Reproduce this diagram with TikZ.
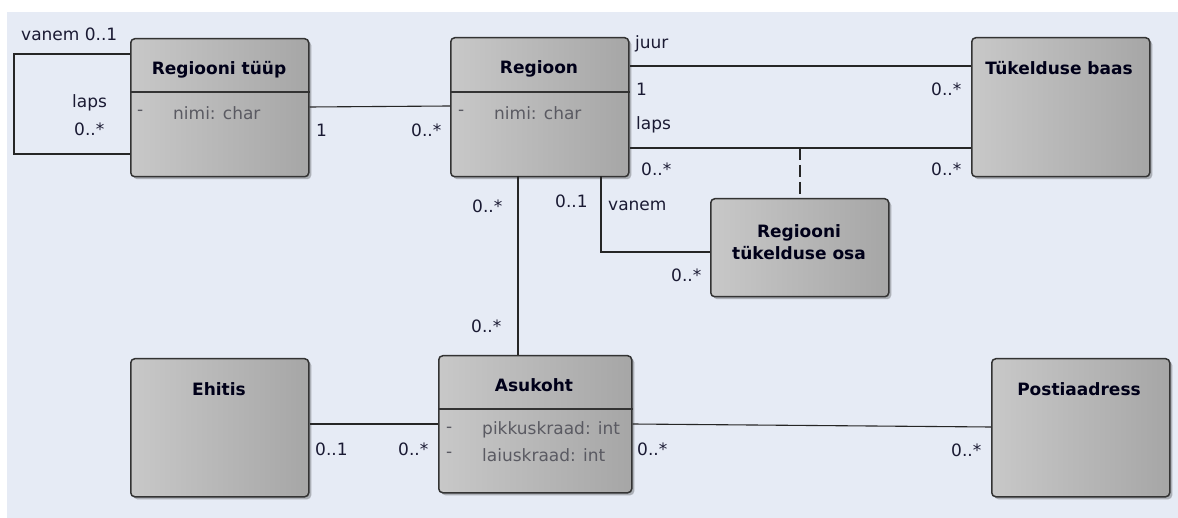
\documentclass[tikz,border=0pt]{standalone}
\usepackage{fontspec}
\setmainfont{DejaVu Sans}
\usetikzlibrary{shadows}
\definecolor{canvas}{HTML}{E6EBF5}
\definecolor{boxline}{HTML}{333333}
\definecolor{fillL}{HTML}{C8C8C8}
\definecolor{fillR}{HTML}{A6A6A6}
\definecolor{lbl}{HTML}{1A1A33}
\definecolor{attr}{HTML}{5A5A62}
\tikzset{
  cls/.style={draw=boxline, line width=1.5pt, rounded corners=4pt,
    left color=fillL, right color=fillR, anchor=north west, inner sep=0pt,
    drop shadow={shadow xshift=2.5pt, shadow yshift=-2.5pt, opacity=0.25, fill=black}},
  ctitle/.style={font=\fontsize{17}{20}\selectfont\bfseries, text=black!90!blue, inner sep=0pt, align=center},
  cattr/.style={font=\fontsize{17}{20}\selectfont, text=attr, inner sep=0pt, anchor=west},
  mult/.style={font=\fontsize{17}{20}\selectfont, text=lbl, inner sep=0pt},
  assoc/.style={draw=black!85, line width=1.1pt},
  sepline/.style={draw=boxline, line width=1.4pt}
}
\begin{document}
\begin{tikzpicture}[x=1pt,y=-1pt]
\useasboundingbox (0,0) rectangle (1178,518);
\fill[canvas] (7,12) rectangle (1178,518);

% class boxes
\node[cls, minimum width=178pt, minimum height=138pt] (rt) at (130,38) {};
\node[cls, minimum width=178pt, minimum height=139pt] (rg) at (450,37) {};
\node[cls, minimum width=178pt, minimum height=139pt] (tb) at (971,37) {};
\node[cls, minimum width=178pt, minimum height=98pt] (ro) at (710,198) {};
\node[cls, minimum width=178pt, minimum height=138pt] (eh) at (130,358) {};
\node[cls, minimum width=193pt, minimum height=137pt] (as) at (438,355) {};
\node[cls, minimum width=178pt, minimum height=138pt] (pa) at (991,358) {};

% compartment separators
\draw[sepline] (rt.west |- 0,92) -- (rt.east |- 0,92);
\draw[sepline] (rg.west |- 0,92) -- (rg.east |- 0,92);
\draw[sepline] (as.west |- 0,409) -- (as.east |- 0,409);

% class names
\node[ctitle] (rt-n) at (219,70) {Regiooni tüüp};
\node[ctitle] (rg-n) at (539,69) {Regioon};
\node[ctitle] (tb-n) at (1059,68) {Tükelduse baas};
\node[ctitle] (ro-n) at (799,242) {Regiooni\\[2pt]tükelduse osa};
\node[ctitle] (eh-n) at (219,389) {Ehitis};
\node[ctitle] (as-n) at (534,385) {Asukoht};
\node[ctitle] (pa-n) at (1079,389) {Postiaadress};

% attributes
\node[cattr] (rt-d) at (137,113) {-};
\node[cattr] (rt-a) at (173,113) {nimi: char};
\node[cattr] (rg-d) at (458,113) {-};
\node[cattr] (rg-a) at (494,113) {nimi: char};
\node[cattr] (as-d1) at (446,430) {-};
\node[cattr] (as-a1) at (482,430) {pikkuskraad: int};
\node[cattr] (as-d2) at (446,455) {-};
\node[cattr] (as-a2) at (482,455) {laiuskraad: int};

% connector end points
\coordinate (loopA) at (rt.west |- 0,54);
\coordinate (loopB) at (rt.west |- 0,154);
\coordinate (juurA) at (rg.east |- 0,66);
\coordinate (juurB) at (tb.west |- 0,66);
\coordinate (lapsA) at (rg.east |- 0,148);
\coordinate (lapsB) at (tb.west |- 0,148);
\coordinate (lapsMid) at (800,148);
\coordinate (vanA) at (601,176);
\coordinate (vanB) at (ro.west |- 0,252);
\coordinate (vertA) at (518,176);
\coordinate (vertB) at (518,355);

% associations
\draw[assoc] (loopA) -- (14,54) -- (14,154) -- (loopB);
\draw[assoc] (rt.east |- 0,107) -- (rg.west |- 0,106);
\draw[assoc] (juurA) -- (juurB);
\draw[assoc] (lapsA) -- (lapsB);
\draw[assoc, dash pattern=on 12pt off 5pt] (lapsMid) -- (ro.north -| lapsMid);
\draw[assoc] (vanA) |- (vanB);
\draw[assoc] (vertA) -- (vertB);
\draw[assoc] (eh.east |- 0,424) -- (as.west |- 0,424);
\draw[assoc] (as.east |- 0,424) -- (pa.west |- 0,427);

% role names and multiplicities
\node[mult, anchor=west] (m1) at (21,34) {vanem 0..1};
\node[mult, anchor=west] (m2) at (72,103) {laps};
\node[mult, anchor=west] (m3) at (74,129) {0..*};
\node[mult, anchor=west] (m4) at (316,130) {1};
\node[mult, anchor=west] (m5) at (411,130) {0..*};
\node[mult, anchor=west] (m6) at (635,44) {juur};
\node[mult, anchor=west] (m7) at (636,89) {1};
\node[mult, anchor=west] (m8) at (931,89) {0..*};
\node[mult, anchor=west] (m9) at (636,125) {laps};
\node[mult, anchor=west] (m10) at (641,169) {0..*};
\node[mult, anchor=west] (m11) at (931,169) {0..*};
\node[mult, anchor=west] (m12) at (608,206) {vanem};
\node[mult, anchor=west] (m13) at (555,201) {0..1};
\node[mult, anchor=west] (m14) at (671,275) {0..*};
\node[mult, anchor=west] (m15) at (472,206) {0..*};
\node[mult, anchor=west] (m16) at (471,326) {0..*};
\node[mult, anchor=west] (m17) at (315,449) {0..1};
\node[mult, anchor=west] (m18) at (398,449) {0..*};
\node[mult, anchor=west] (m19) at (637,449) {0..*};
\node[mult, anchor=west] (m20) at (951,450) {0..*};
\end{tikzpicture}
\end{document}
